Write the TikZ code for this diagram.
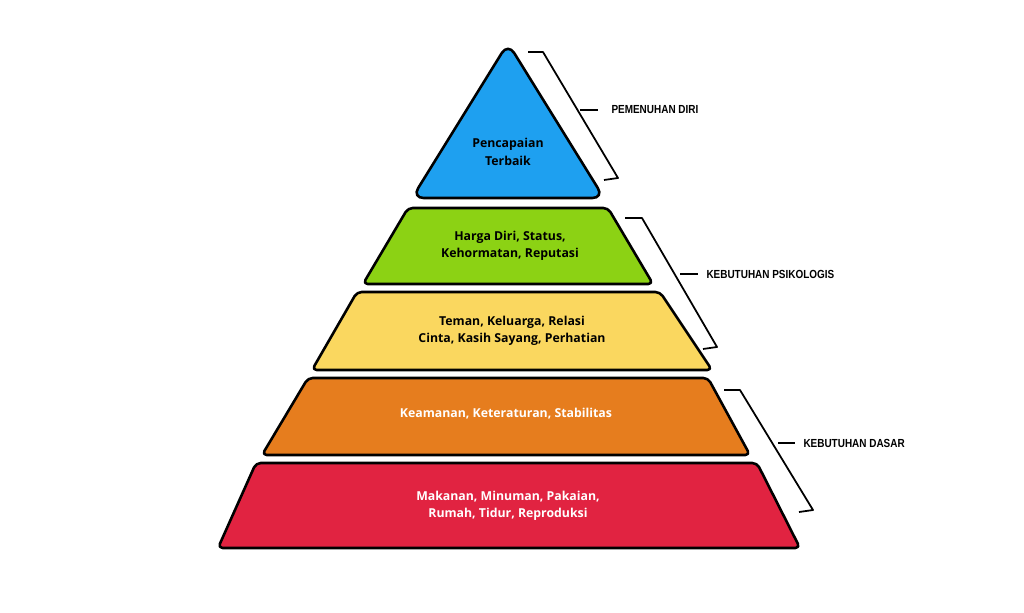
\documentclass[tikz,border=0pt]{standalone}
\usepackage{fontspec}
\setmainfont{Open Sans}
\newfontfamily\labfont{Liberation Sans}
\begin{document}
\begin{tikzpicture}[x=0.03cm,y=-0.03cm,
  layer/.style={draw=black,line width=2.2pt,rounded corners=4pt,line join=round},
  txt/.style={font=\bfseries\fontsize{10.5}{15}\selectfont,align=center},
  brk/.style={line width=1.5pt,line join=round},
  lab/.style={font=\labfont\bfseries\fontsize{10}{12}\selectfont,anchor=west,xscale=0.85}]
\useasboundingbox (0,0) rectangle (1024,613);
\definecolor{cb}{RGB}{30,160,240}
\definecolor{cg}{RGB}{140,210,20}
\definecolor{cy}{RGB}{250,215,95}
\definecolor{co}{RGB}{230,125,30}
\definecolor{cr}{RGB}{225,35,65}
\draw[layer,fill=cb,rounded corners=10pt] (508,43) -- (604,198) -- (412,198) -- cycle;
\draw[layer,fill=cg] (408,208) -- (608,208) -- (653,284) -- (363,284) -- cycle;
\draw[layer,fill=cy] (357,292) -- (660,292) -- (712,370) -- (312,370) -- cycle;
\draw[layer,fill=co] (308,378) -- (708,378) -- (750,455) -- (262,455) -- cycle;
\draw[layer,fill=cr] (256,463) -- (757,463) -- (800,548) -- (218,548) -- cycle;
\node[txt] (t1) at (508,152) {Pencapaian\\Terbaik};
\node[txt] (t2) at (510,246) {Harga Diri, Status,\\Kehormatan, Reputasi};
\node[txt] (t3) at (512,331) {Teman, Keluarga, Relasi\\Cinta, Kasih Sayang, Perhatian};
\node[txt,text=white] (t4) at (506,414) {Keamanan, Keteraturan, Stabilitas};
\node[txt,text=white] (t5) at (508,506) {Makanan, Minuman, Pakaian,\\Rumah, Tidur, Reproduksi};
\draw[brk] (528,52) -- (543,52) -- (618,178) -- (604,180);
\draw[brk] (580,110) -- (598,110);
\node[lab] (l1) at (608,110) {PEMENUHAN DIRI};
\draw[brk] (625,218) -- (642,218) -- (717,347) -- (703,349);
\draw[brk] (680,274) -- (698,274);
\node[lab] (l2) at (703,274) {KEBUTUHAN PSIKOLOGIS};
\draw[brk] (724,390) -- (740,390) -- (813,510) -- (799,512);
\draw[brk] (778,443) -- (795,443);
\node[lab] (l3) at (800,443) {KEBUTUHAN DASAR};
\end{tikzpicture}
\end{document}
